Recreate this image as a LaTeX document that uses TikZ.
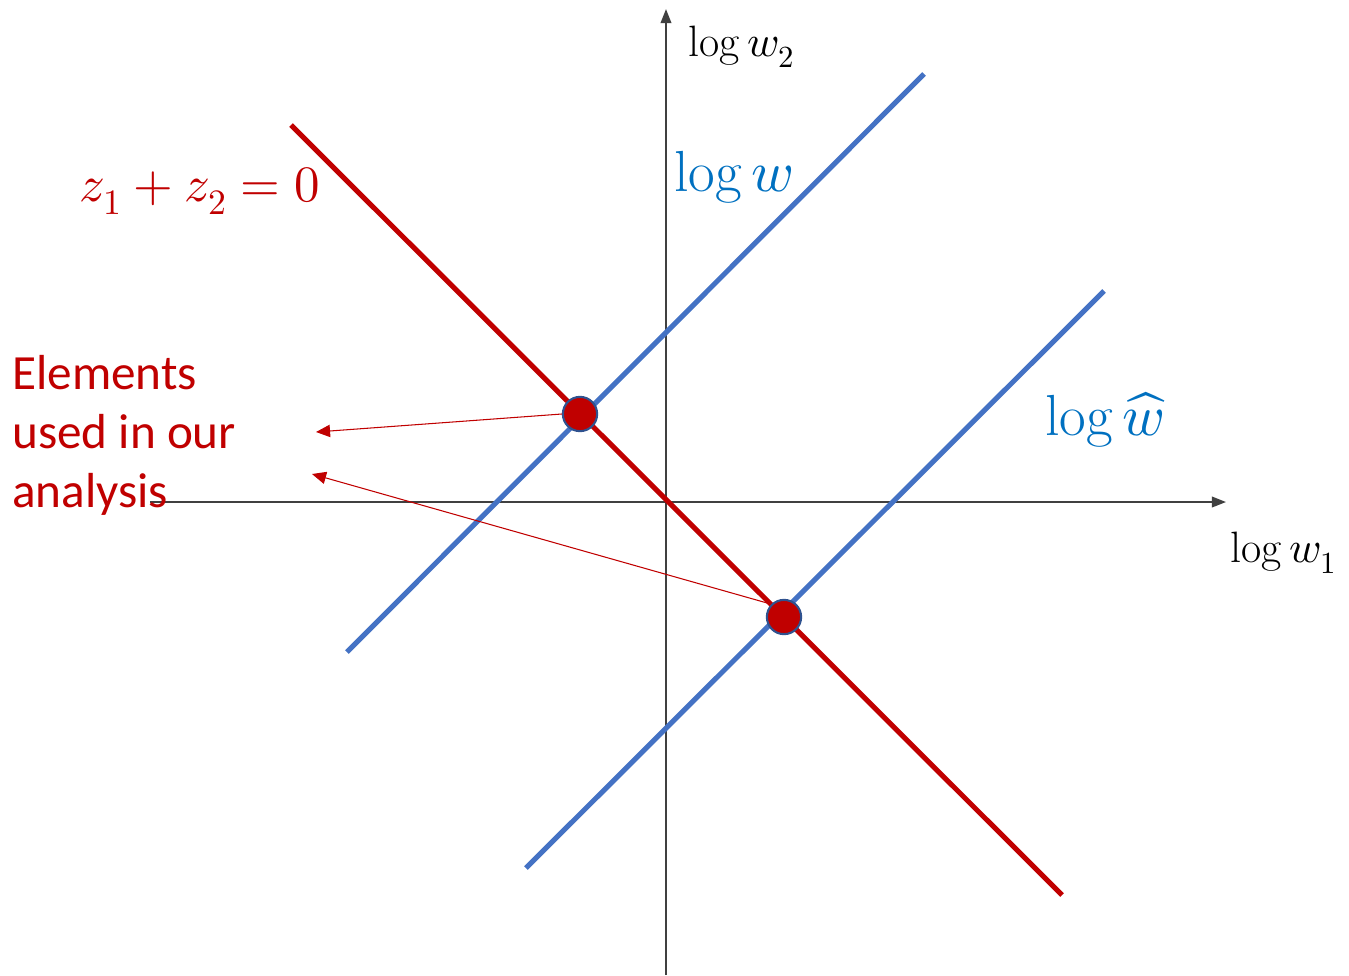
\documentclass[tikz,border=0pt]{standalone}
\usepackage{fontspec}
\usepackage{unicode-math}
\newfontfamily\calfont{Carlito}
\usetikzlibrary{arrows.meta}
\definecolor{darkred}{HTML}{C00000}
\definecolor{lineblue}{HTML}{4472C4}
\definecolor{textblue}{HTML}{0070C0}
\definecolor{dotedge}{HTML}{2F528F}
\begin{document}
\begin{tikzpicture}[x=0.02cm,y=-0.02cm,
  axis/.style={line width=1.1pt, draw=black!75, -{Triangle[length=8pt,width=6pt]}},
  redline/.style={draw=darkred, line width=2.9pt},
  blueline/.style={draw=lineblue, line width=2.9pt},
  dot/.style={circle, fill=darkred, draw=dotedge, line width=1.2pt, minimum size=19.5pt, inner sep=0pt},
  pointer/.style={draw=darkred, line width=0.6pt, -{Triangle[length=8pt,width=7pt]}},
  axlabel/.style={font=\fontsize{25}{29}\selectfont, text=black},
  biglabel/.style={font=\fontsize{33}{38}\selectfont}]
\useasboundingbox (0,0) rectangle (1349,975);
% axes
\coordinate (xs) at (150,502);
\coordinate (xe) at (1226,502);
\coordinate (ys) at (666,975);
\coordinate (ye) at (666,9);
\draw[axis] (xs) -- (xe);
\draw[axis] (ys) -- (ye);
% lines
\coordinate (r1) at (291,125);
\coordinate (r2) at (1062,895);
\coordinate (b1s) at (347,652);
\coordinate (b1e) at (924,74);
\coordinate (b2s) at (526,868);
\coordinate (b2e) at (1104,291);
\draw[blueline] (b1s) -- (b1e);
\draw[blueline] (b2s) -- (b2e);
\draw[redline] (r1) -- (r2);
% labels
\node[axlabel] (lw2) at (742,47) {$\log w_2$};
\node[axlabel] (lw1) at (1284,553) {$\log w_1$};
\node[biglabel, text=textblue] (lw) at (734,177) {$\log w$};
\node[biglabel, text=textblue] (lwh) at (1105,420) {$\log \widehat{w}$};
\node[font=\fontsize{29}{34}\selectfont, text=darkred] (zz) at (200,191) {$z_1+z_2=0$};
\node[font=\calfont\fontsize{28}{33.6}\selectfont, text=darkred, align=left, anchor=north west, inner sep=0pt] (elem) at (12,355) {Elements\\used in our\\analysis};
% pointers
\coordinate (p1) at (316,432);
\coordinate (p2) at (312,474);
\node[dot] (d1) at (580,414) {};
\node[dot] (d2) at (784,617) {};
\draw[pointer] (d1.west) -- (p1);
\draw[pointer] (d2.north west) -- (p2);
\end{tikzpicture}
\end{document}
